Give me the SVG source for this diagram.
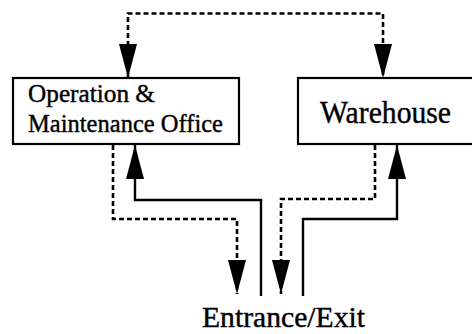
<svg xmlns="http://www.w3.org/2000/svg" width="472" height="334" viewBox="0 0 472 334">
<style>
.box{fill:#fff;stroke:#000;stroke-width:2.2}
.lbl{font-family:"Liberation Serif","Times New Roman",serif;fill:#000;stroke:#000;stroke-width:0.4}
.solid{fill:none;stroke:#000;stroke-width:2.4}
.dash{fill:none;stroke:#000;stroke-width:2.6;stroke-dasharray:5 3}
</style>
<defs>
<marker id="ah" markerUnits="userSpaceOnUse" markerWidth="34" markerHeight="18" refX="34" refY="9" orient="auto-start-reverse" viewBox="0 0 34 18">
<path d="M0,0 L34,9 L0,18 z" fill="#000"/>
</marker>
</defs>
<rect width="472" height="334" fill="#fff"/>
<g id="connectors">
<path class="dash" d="M128,78 L128,13.5 L383,13.5 L383,78" marker-start="url(#ah)" marker-end="url(#ah)"/>
<path class="solid" d="M261,296 L261,200 L135,200 L135,145" marker-end="url(#ah)"/>
<path class="dash" d="M113,145 L113,219 L237,219 L237,294" marker-end="url(#ah)"/>
<path class="dash" d="M375,145 L375,199 L281,199 L281,294" marker-end="url(#ah)"/>
<path class="solid" d="M303,296 L303,219 L397,219 L397,145" marker-end="url(#ah)"/>
</g>
<g id="office">
<rect class="box" x="13" y="78" width="226" height="66"/>
<text class="lbl" x="28" y="102" font-size="26" textLength="127" lengthAdjust="spacingAndGlyphs">Operation &amp;</text>
<text class="lbl" x="28" y="132" font-size="26" textLength="195" lengthAdjust="spacingAndGlyphs">Maintenance Office</text>
</g>
<g id="warehouse">
<rect class="box" x="298" y="78" width="180" height="66"/>
<text class="lbl" x="320" y="123" font-size="31" textLength="131" lengthAdjust="spacingAndGlyphs">Warehouse</text>
</g>
<g id="entrance">
<text class="lbl" x="202" y="327" font-size="29" textLength="163" lengthAdjust="spacingAndGlyphs">Entrance/Exit</text>
</g>
</svg>
